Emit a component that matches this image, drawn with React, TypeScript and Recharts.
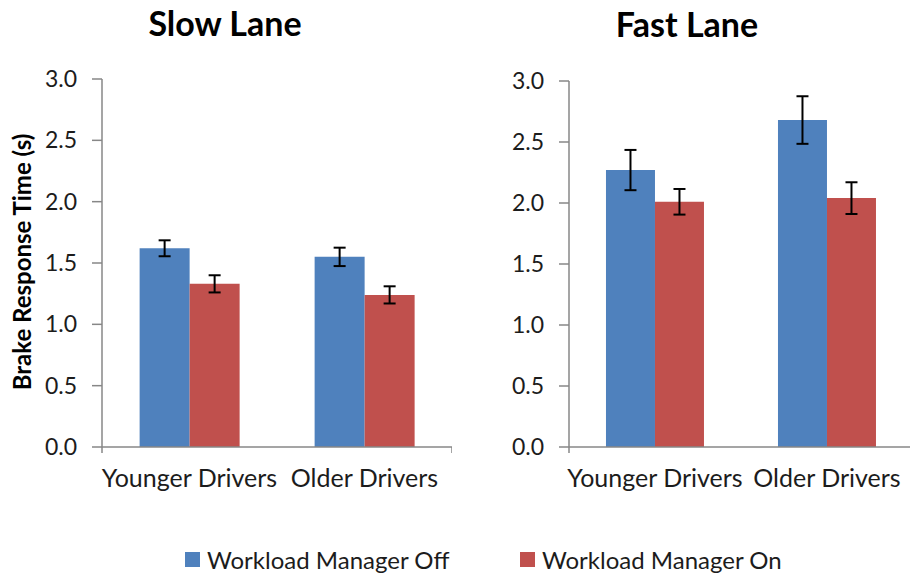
import { BarChart, Bar, XAxis, YAxis, ErrorBar } from "recharts";

const groups = ["Younger Drivers", "Older Drivers"];
const seriesNames = ["Workload Manager Off", "Workload Manager On"];
const seriesColors = ["#4F81BD", "#C0504D"];

const slowOff = [1.62, 1.55];
const slowOffErr = [0.065, 0.075];
const slowOn = [1.33, 1.24];
const slowOnErr = [0.07, 0.07];

const fastOff = [2.27, 2.68];
const fastOffErr = [0.165, 0.195];
const fastOn = [2.01, 2.04];
const fastOnErr = [0.105, 0.13];

const yTicks = [0, 0.5, 1, 1.5, 2, 2.5, 3];
const boundaryTicks = [0, 1, 2];

const FONT = "Lato, 'Open Sans', sans-serif";
const AXIS = "#878787";
const TEXT = "#1c1c1c";

const build = (off: number[], offErr: number[], on: number[], onErr: number[]) =>
  groups.map((g, i) => ({
    group: g,
    off: off[i],
    offErr: offErr[i],
    on: on[i],
    onErr: onErr[i],
  }));

type PanelProps = {
  data: ReturnType<typeof build>;
  width: number;
  yAxisWidth: number;
  top: number;
};

const Panel = ({ data, width, yAxisWidth, top }: PanelProps) => (
  <BarChart
    width={width}
    height={510}
    data={data}
    margin={{ top, right: 0, left: 0, bottom: 20 }}
    barCategoryGap="21.5%"
    barGap={0}
  >
    {/* numeric helper axis: baseline plus the ticks between categories */}
    <XAxis
      xAxisId="a"
      type="number"
      domain={[0, 2]}
      ticks={boundaryTicks}
      interval={0}
      allowDataOverflow
      tickFormatter={() => ""}
      tickSize={6}
      tickMargin={0}
      height={2}
      stroke={AXIS}
      strokeWidth={1.5}
    />
    <XAxis
      xAxisId="b"
      dataKey="group"
      axisLine={false}
      tickLine={false}
      tickSize={0}
      tickMargin={20}
      height={41}
      tick={{ fill: TEXT, fontSize: 25, fontFamily: FONT }}
    />
    <YAxis
      width={yAxisWidth}
      domain={[0, 3]}
      ticks={yTicks}
      tickFormatter={(v: number) => v.toFixed(1)}
      tickSize={10}
      tickMargin={15}
      stroke={AXIS}
      strokeWidth={1.5}
      tick={{ fill: TEXT, fontSize: 23, fontFamily: FONT }}
    />
    <Bar xAxisId="b" dataKey="off" fill={seriesColors[0]} isAnimationActive={false}>
      <ErrorBar dataKey="offErr" width={6} stroke="#000" strokeWidth={2} />
    </Bar>
    <Bar xAxisId="b" dataKey="on" fill={seriesColors[1]} isAnimationActive={false}>
      <ErrorBar dataKey="onErr" width={6} stroke="#000" strokeWidth={2} />
    </Bar>
  </BarChart>
);

export default function App() {
  const slowData = build(slowOff, slowOffErr, slowOn, slowOnErr);
  const fastData = build(fastOff, fastOffErr, fastOn, fastOnErr);
  return (
    <div
      style={{
        position: "absolute",
        left: 0,
        top: 0,
        width: 910,
        height: 575,
        overflow: "hidden",
        background: "#fff",
        fontFamily: FONT,
      }}
    >
      <div style={{ position: "absolute", left: 0, top: 0 }}>
        <Panel data={slowData} width={452} yAxisWidth={102} top={79} />
      </div>
      <div style={{ position: "absolute", left: 470, top: 0 }}>
        <Panel data={fastData} width={443} yAxisWidth={99} top={81} />
      </div>
      <svg
        width={910}
        height={575}
        style={{ position: "absolute", left: 0, top: 0, pointerEvents: "none" }}
      >
        <text x={225} y={36} textAnchor="middle" fontSize={34} fontWeight={700} fontFamily={FONT} fill="#000">
          Slow Lane
        </text>
        <text x={687} y={37} textAnchor="middle" fontSize={34} fontWeight={700} fontFamily={FONT} fill="#000">
          Fast Lane
        </text>
        <text
          x={0}
          y={0}
          transform="translate(31,262) rotate(-90)"
          textAnchor="middle"
          fontSize={24}
          fontWeight={700}
          fontFamily={FONT}
          fill="#000"
        >
          Brake Response Time (s)
        </text>
      </svg>
      {seriesNames.map((name, i) => (
        <div
          key={name}
          style={{
            position: "absolute",
            left: i === 0 ? 185 : 520,
            top: 545,
            display: "flex",
            alignItems: "center",
            fontSize: 24,
            color: TEXT,
            whiteSpace: "nowrap",
          }}
        >
          <span
            style={{
              display: "inline-block",
              width: 15,
              height: 15,
              background: seriesColors[i],
              marginRight: 7,
            }}
          />
          {name}
        </div>
      ))}
    </div>
  );
}
